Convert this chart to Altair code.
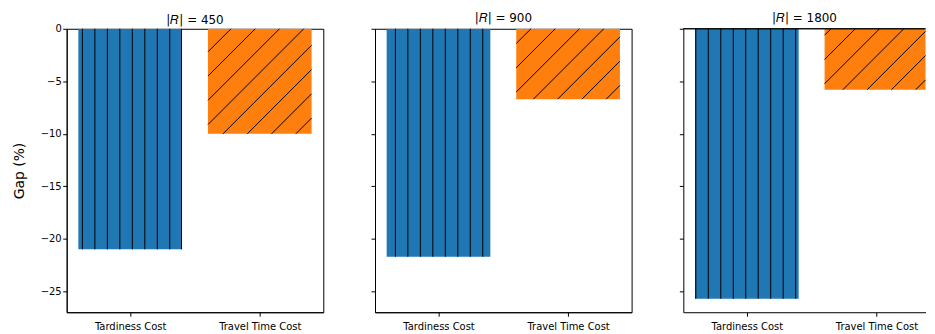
import altair as alt
import pandas as pd

# ---- data ----
sizes = [450, 900, 1800]
categories = ["Tardiness Cost", "Travel Time Cost"]
tardiness_gap = [-21.0, -21.7, -25.7]
travel_gap = [-10.0, -6.7, -5.8]
y_ticks = [-25, -20, -15, -10, -5, 0]

# ---- styling ----
colors = ["#1f77b4", "#ff7f0e"]
W_full, H = 258, 285
panel_widths = [258, 258, 243.5]   # last panel is cut by the page edge, as in the reference
title_offsets = [-3, 3, 3]
bar_w = 0.8
xmin = -bar_w / 2 - 0.05 * (len(categories) - 1 + bar_w)
xmax_full = len(categories) - 1 + bar_w / 2 + 0.05 * (len(categories) - 1 + bar_w)
ymin = min(min(tardiness_gap), min(travel_gap)) * 1.05
ymax = 0.0
kx = W_full / (xmax_full - xmin)
ky = H / (ymax - ymin)

v_period, v_phase = 12.55, [3.25, 7.95, 0.0]
d_period, d_phase = 24.4, [18.8, 10.4, 2.1]

FONT = "DejaVu Sans"


def hatch_lines(j, tard, trav, width):
    rows = []
    L = (0 - bar_w / 2 - xmin) * kx
    R = min((0 + bar_w / 2 - xmin) * kx, width)
    for n in range(0, 60):
        p = v_phase[j] + n * v_period
        if L - 0.5 <= p <= R + 0.5:
            p = min(max(p, L + 0.5), R - 0.5)
            xd = p / kx + xmin
            rows.append({"hx": xd, "hx2": xd, "hy": tard, "hy2": 0.0})
    L = (1 - bar_w / 2 - xmin) * kx
    R = min((1 + bar_w / 2 - xmin) * kx, width)
    B = -trav * ky
    for n in range(0, 60):
        c = d_phase[j] + n * d_period
        xs = max(L, c - B)
        xe = min(R, c)
        if xe - xs > 0.5:
            rows.append({
                "hx": xs / kx + xmin, "hy": -(c - xs) / ky,
                "hx2": xe / kx + xmin, "hy2": -(c - xe) / ky,
            })
    return pd.DataFrame(rows)


label_expr = "[" + ",".join("'%s'" % c for c in categories) + "][datum.value]"

panels = []
for j, s in enumerate(sizes):
    Wj = panel_widths[j]
    xmax_j = xmin + Wj / kx
    bars = pd.DataFrame({
        "category": categories,
        "idx": list(range(len(categories))),
        "value": [tardiness_gap[j], travel_gap[j]],
    })
    first = j == 0
    yaxis = alt.Axis(
        values=y_ticks, labels=first, title="Gap (%)" if first else None,
        titleFontSize=14, titleFontWeight="normal", titleFont=FONT, titleColor="black",
        titlePadding=13.5,
        labelFont=FONT, labelFontSize=10, labelColor="black", labelPadding=1.5,
        tickSize=4, tickColor="black", tickWidth=1, domainColor="black", grid=False,
        minExtent=27 if first else 4, maxExtent=27 if first else 4,
    )
    xaxis = alt.Axis(
        values=list(range(len(categories))), labelExpr=label_expr, title=None,
        labelFont=FONT, labelFontSize=10, labelColor="black", labelPadding=5.5,
        tickSize=4, tickColor="black", tickWidth=1, domainColor="black", grid=False,
    )
    xscale = alt.Scale(domain=[xmin, xmax_j], nice=False, zero=False)
    yscale = alt.Scale(domain=[ymin, ymax], nice=False, zero=False)

    bar_layer = alt.Chart(bars).transform_calculate(
        x0="datum.idx - %f" % (bar_w / 2),
        x1="datum.idx + %f" % (bar_w / 2),
        base="0",
    ).mark_bar(opacity=1, clip=True).encode(
        x=alt.X("x0:Q", scale=xscale, axis=xaxis),
        x2="x1:Q",
        y=alt.Y("value:Q", scale=yscale, axis=yaxis),
        y2="base:Q",
        color=alt.Color("category:N", scale=alt.Scale(domain=categories, range=colors), legend=None),
    )
    hatch = alt.Chart(hatch_lines(j, tardiness_gap[j], travel_gap[j], Wj)).mark_rule(
        color="black", strokeWidth=1
    ).encode(
        x=alt.X("hx:Q", scale=xscale),
        x2="hx2:Q",
        y=alt.Y("hy:Q", scale=yscale),
        y2="hy2:Q",
    )
    layers = [bar_layer, hatch]
    cut = Wj < W_full
    if cut:
        top_spine = alt.Chart(bars).mark_rule(color="black", strokeWidth=1).encode(
            y=alt.datum(ymax, scale=yscale)
        )
        layers.append(top_spine)
    props = dict(
        width=Wj, height=H,
        title=alt.TitleParams("|𝑅| = %d" % s, fontSize=12, font=FONT, fontWeight="normal",
                              color="black", anchor="middle", offset=title_offsets[j],
                              frame="group"),
    )
    if cut:
        props["view"] = alt.ViewBackground(stroke="transparent")
    panels.append(alt.layer(*layers).properties(**props))

chart = alt.hconcat(*panels, spacing=46).properties(
    padding={"left": 4, "top": 3, "right": 0, "bottom": 0}
).configure(
    font=FONT,
    view=alt.ViewConfig(stroke="black", strokeWidth=1),
)

chart.save("out.html", embed_options={"renderer": "svg", "actions": False})
